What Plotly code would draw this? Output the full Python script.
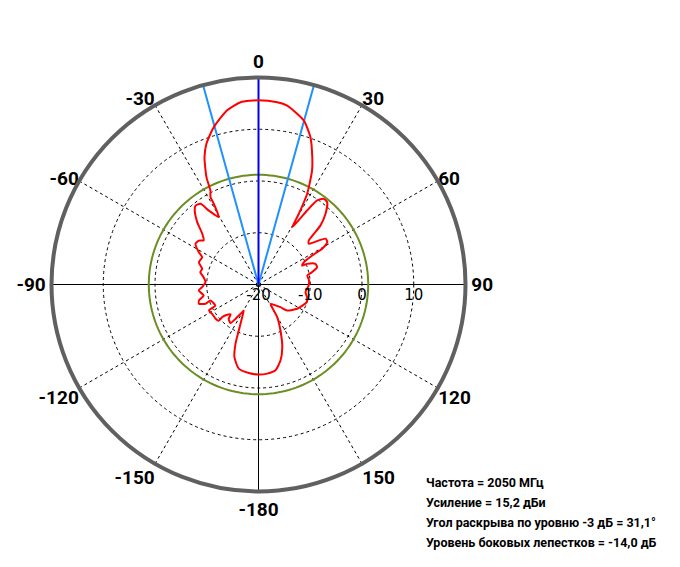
import plotly.graph_objects as go

# ---- data ----
theta_deg = [0, 5.9, 9.1, 15.4, 19.4, 22.9, 25.2, 28.2, 29.7, 30.5, 33.3, 34.9, 37.3, 39.9, 43.5,
             46.4, 47.5, 48.8, 51.0, 52.6, 55.7, 58.4, 60.7, 61.6, 63.8, 66.5, 67.0, 70.0,
             73.6, 77.1, 79.5, 85.5, 91.1, 99.3, 104.6, 110.2, 115.7, 122.1, 132.2, 135.9,
             141.0, 148.1, 150.2, 154.4, 159.3, 163.9, 168.8, 174.4, 180, 186.2, 193.2,
             198.3, 201.2, 203.2, 206.5, 209.5, 210.5, 212.4, 213.8, 215.9, 220.9, 223.0,
             226.8, 228.0, 227.8, 231.4, 237.7, 242.4, 244.0, 251.6, 250.0, 252.1, 255.0,
             258.6, 264.3, 267.3, 272.5, 277.6, 282.0, 285.6, 290.5, 295.9, 298.4, 302.9,
             306.4, 308.8, 312.0, 315.5, 319.3, 321.4, 324.3, 326.1, 329.5, 331.0, 331.2,
             332.9, 334.1, 337.0, 339.7, 344.1, 349.8, 354.4, 360]
gain_db = [15.6, 15.4, 15.0, 12.9, 10.2, 6.7, 4.3, -0.1, -4.3, -7.2, -2.9, -0.2, 0.8, 0.7, -1.2,
           -3.5, -5.5, -7.1, -7.5, -6.6, -4.3, -4.4, -5.9, -8.2, -10.2, -10.8, -9.8, -8.3,
           -8.2, -9.4, -10.4, -10.2, -10.3, -10.8, -10.3, -10.1, -10.6, -11.2, -12.5, -13.9,
           -14.8, -15.6, -12.7, -10.2, -7.0, -4.7, -3.1, -2.7, -2.6, -2.8, -3.3,
           -5.2, -7.7, -10.3, -12.9, -14.2, -13.8, -12.9, -12.0, -10.8, -11.2, -12.1,
           -11.3, -10.6, -9.6, -9.4, -9.4, -9.2, -10.7, -10.2, -9.1, -7.9, -8.1,
           -9.2, -8.4, -9.1, -9.75, -9.3, -8.5, -8.7, -7.7, -7.9, -6.9, -5.5,
           -5.7, -6.4, -5.4, -3.1, -1.1, -0.5, -0.8, -2.8, -4.9, -2.2, -0.75,
           0.4, 3.0, 6.7, 9.0, 11.6, 14.2, 15.4, 15.6]

gain_dbi = 15.2
beamwidth_deg = 31.1
sidelobe_db = -14.0
sll_circle_db = gain_dbi + sidelobe_db  # 1.2 dB

r_range = [-20, 20]
radial_ticks = [-20, -10, 0, 10]
# diagonal (dashed) angular grid and its labels
diag_ticks = [30, 60, 120, 150, 210, 240, 300, 330]
diag_labels = ["30", "60", "120", "150", "-150", "-120", "-60", "-30"]
# main (solid) axes and their labels
main_ticks = [0, 90, 180, 270]
main_labels = ["0", "90", "-180", "-90"]
circle_theta = list(range(0, 361, 2))

info_lines = [
    "Частота = 2050 МГц",
    "Усиление = 15,2 дБи",
    "Угол раскрыва по уровню -3 дБ = 31,1°",
    "Уровень боковых лепестков = -14,0 дБ",
]

# ---- figure ----
W, H = 680, 567
OFF = 8  # page body margin
cx, cy, R = 258.5 - OFF, 284.5 - OFF, 207
dom_x = [(cx - R) / W, (cx + R) / W]
dom_y = [(H - cy - R) / H, (H - cy + R) / H]

bold_font = "Roboto, Liberation Sans, sans-serif"
label_font = dict(family=bold_font, size=19, color="black", weight="bold")

fig = go.Figure()

# bottom polar: dashed grid + diagonal labels
fig.add_trace(go.Scatterpolar(r=[], theta=[], subplot="polar", showlegend=False, hoverinfo="skip"))

# top polar: solid main axes + data
fig.add_trace(go.Scatterpolar(
    r=[sll_circle_db] * len(circle_theta), theta=circle_theta, mode="lines",
    line=dict(color="#6B8E23", width=2), subplot="polar2", showlegend=False))
for t in (-beamwidth_deg / 2, beamwidth_deg / 2):
    fig.add_trace(go.Scatterpolar(
        r=r_range, theta=[t, t], mode="lines",
        line=dict(color="#1E90FF", width=2), subplot="polar2", showlegend=False))
fig.add_trace(go.Scatterpolar(
    r=r_range, theta=[0, 0], mode="lines",
    line=dict(color="#0000EE", width=2), subplot="polar2", showlegend=False))
fig.add_trace(go.Scatterpolar(
    r=gain_db, theta=theta_deg, mode="lines",
    line=dict(color="#FF0000", width=2, shape="spline", smoothing=0.6),
    subplot="polar2", showlegend=False))

fig.update_layout(
    width=W, height=H,
    margin=dict(l=0, r=0, t=0, b=0),
    paper_bgcolor="white",
    polar=dict(
        domain=dict(x=dom_x, y=dom_y),
        bgcolor="white",
        angularaxis=dict(rotation=90, direction="clockwise", tickmode="array",
                         tickvals=diag_ticks, ticktext=diag_labels, tickfont=label_font,
                         showgrid=True, gridcolor="black", gridwidth=1, griddash="3px,3px",
                         showline=False, ticks=""),
        radialaxis=dict(range=r_range, tickmode="array", tickvals=radial_ticks,
                        showticklabels=False, showgrid=True, gridcolor="black", gridwidth=1,
                        griddash="3px,3px", showline=False, ticks=""),
    ),
    polar2=dict(
        domain=dict(x=dom_x, y=dom_y),
        bgcolor="rgba(0,0,0,0)",
        angularaxis=dict(rotation=90, direction="clockwise", tickmode="array",
                         tickvals=main_ticks, ticktext=main_labels, tickfont=label_font,
                         showgrid=True, gridcolor="black", gridwidth=1,
                         showline=True, linecolor="#606060", linewidth=4, ticks=""),
        radialaxis=dict(range=r_range, tickmode="array", tickvals=radial_ticks,
                        ticktext=[str(v) for v in radial_ticks], angle=0,
                        tickfont=dict(family="DejaVu Sans, Verdana, sans-serif", size=15, color="black"),
                        showgrid=False, showline=False, ticks=""),
    ),
)

for i, txt in enumerate(info_lines):
    fig.add_annotation(
        text=txt, xref="paper", yref="paper",
        x=(424 - OFF) / W, y=1 - (482 - OFF + 20 * i) / H, xanchor="left", yanchor="middle",
        showarrow=False, font=dict(family=bold_font, size=12.5, color="black", weight="bold"))

fig.write_html("out.html")
